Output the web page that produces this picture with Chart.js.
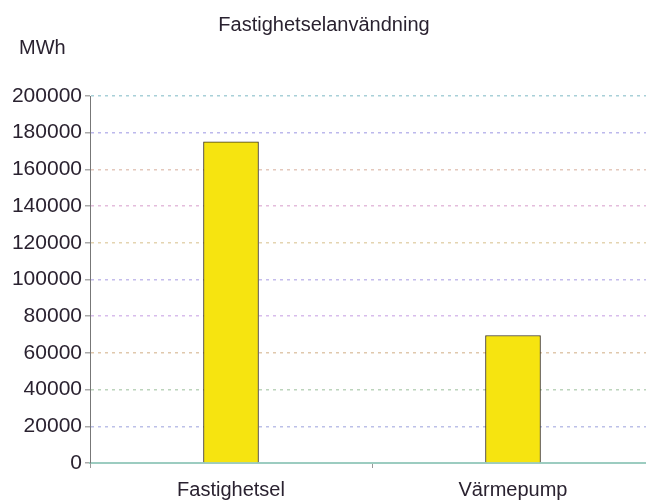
<!DOCTYPE html>
<html lang="sv">
<head>
  <meta charset="UTF-8" />
  <title>Fastighetselanvändning</title>
  <script src="https://cdn.jsdelivr.net/npm/chart.js"></script>
  <style>
    html, body { margin: 0; padding: 0; background: #fff; overflow: hidden; }
    #wrap { width: 660px; height: 502px; }
  </style>
</head>
<body>
  <div id="wrap"><canvas id="elChart"></canvas></div>

  <script>
    // Data
    const titel = 'Fastighetselanvändning';
    const enhet = 'MWh';
    const kategorier = ['Fastighetsel', 'Värmepump'];
    const varden = [175000, 69500];
    const yMin = 0;
    const yMax = 200000;
    const ySteg = 20000;

    // Färger för stödlinjerna (som i det skannade originalet)
    const linjeFarger = {
      200000: '#a8d0d8', 180000: '#bcb8ec', 160000: '#e4c8bc', 140000: '#e4bcdc',
      120000: '#e4d4b0', 100000: '#c4bcec', 80000: '#d8bcec', 60000: '#e0c8ac',
      40000: '#bcd4bc', 20000: '#bcc0e8', 0: '#e0c880'
    };

    const textFarg = '#2a2230';
    const typsnitt = "'Liberation Sans', Arial, sans-serif";

    // Rubrik och enhet ritas som text ovanför diagramytan
    const rubrikPlugin = {
      id: 'rubrik',
      afterDraw(chart) {
        const ctx = chart.ctx;
        ctx.save();
        ctx.fillStyle = textFarg;
        ctx.textBaseline = 'middle';
        ctx.font = '20px ' + typsnitt;
        ctx.textAlign = 'center';
        ctx.fillText(titel, 324, 25);
        ctx.textAlign = 'left';
        ctx.fillText(enhet, 19, 48);
        ctx.restore();
      }
    };

    const ctx = document.getElementById('elChart').getContext('2d');
    new Chart(ctx, {
      type: 'bar',
      data: {
        labels: kategorier,
        datasets: [{
          label: enhet,
          data: varden,
          backgroundColor: '#f6e410',
          borderColor: '#3c3420',
          borderWidth: 1,
          barThickness: 55
        }]
      },
      options: {
        responsive: true,
        maintainAspectRatio: false,
        animation: false,
        layout: { padding: { top: 96, right: 6, bottom: 0, left: 0 } },
        plugins: {
          legend: { display: false },
          tooltip: { enabled: false }
        },
        scales: {
          x: {
            grid: {
              display: true,
              drawOnChartArea: false,
              tickLength: 5,
              color: '#999'
            },
            border: { display: true, color: '#9cccc0', width: 2 },
            ticks: {
              color: textFarg,
              font: { family: typsnitt, size: 20 },
              padding: 10
            },
            afterFit: (s) => { s.height = 39; }
          },
          y: {
            min: yMin,
            max: yMax,
            ticks: {
              stepSize: ySteg,
              color: textFarg,
              font: { family: typsnitt, size: 21 },
              padding: 3,
              callback: (v) => String(v)
            },
            grid: {
              color: (c) => linjeFarger[c.tick.value] || '#ddd',
              lineWidth: 1.5,
              tickLength: 5,
              tickColor: '#aaa'
            },
            border: { display: true, color: '#777', width: 1, dash: [3, 4] },
            afterFit: (s) => { s.width = 90; }
          }
        }
      },
      plugins: [rubrikPlugin]
    });
  </script>
</body>
</html>
